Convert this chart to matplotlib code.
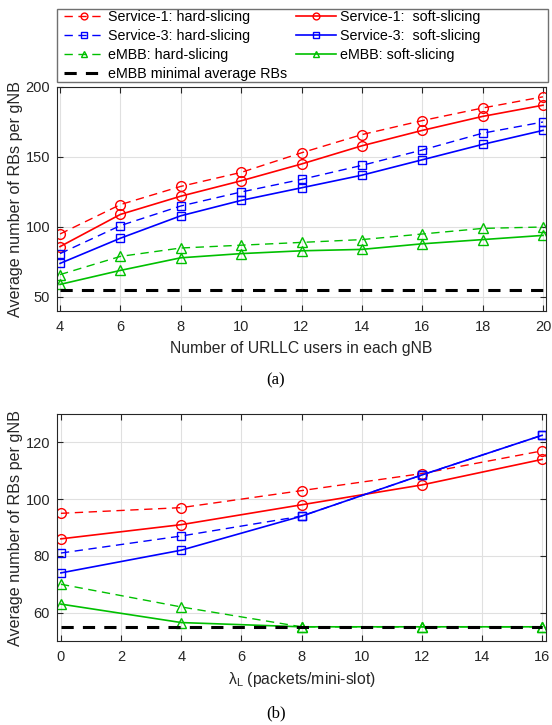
import numpy as np
import matplotlib.pyplot as plt
from matplotlib.patches import Rectangle

plt.rcParams['font.family'] = ['Liberation Sans', 'DejaVu Sans']
plt.rcParams['font.size'] = 10.5
plt.rcParams['axes.labelsize'] = 11.3
plt.rcParams['axes.labelcolor'] = '#262626'

# (a) number of URLLC users
users = [4, 6, 8, 10, 12, 14, 16, 18, 20]
s1_hard_a = [95, 116, 129, 139, 153, 166, 176, 185, 193]
s1_soft_a = [86, 109, 122, 133, 145, 158, 169, 179, 187]
s3_hard_a = [81, 101, 115, 125, 134, 144, 155, 167, 175]
s3_soft_a = [74, 92, 108, 119, 128, 137, 148, 159, 169]
embb_hard_a = [66, 79, 85, 87, 89, 91, 95, 99, 100]
embb_soft_a = [59, 69, 78, 81, 83, 84, 88, 91, 94]

# (b) arrival rate lambda_L
lam = [0, 4, 8, 12, 16]
s1_hard_b = [95, 97, 103, 109, 117]
s1_soft_b = [86, 91, 98, 105, 114]
s3_hard_b = [81, 87, 94, 108.5, 122.5]
s3_soft_b = [74, 82, 94, 108.5, 122.5]
embb_hard_b = [70, 62, 55, 55, 55]
embb_soft_b = [63, 56.5, 55, 55, 55]

embb_min = 55

red = '#ff0000'
blue = '#0000ff'
green = '#00c000'

fig = plt.figure(figsize=(5.52, 7.25), dpi=100)
ax1 = fig.add_axes([57/552, 1-311/725, 489/552, 224/725])
ax2 = fig.add_axes([57/552, 1-641/725, 489/552, 227/725])


def draw(ax, x, s1h, s1s, s3h, s3s, eh, es):
    hd = dict(lw=1.0, dashes=(6, 4), mfc='none', ms=7)
    sd = dict(lw=1.2, mfc='none', ms=7)
    h = {}
    h['s1h'], = ax.plot(x, s1h, color=red, marker='o', label='Service-1: hard-slicing', **hd)
    h['s1s'], = ax.plot(x, s1s, color=red, marker='o', label='Service-1:  soft-slicing', **sd)
    h['s3h'], = ax.plot(x, s3h, color=blue, marker='s', label='Service-3: hard-slicing', **dict(hd, ms=5.5))
    h['s3s'], = ax.plot(x, s3s, color=blue, marker='s', label='Service-3:  soft-slicing', **dict(sd, ms=5.5))
    h['eh'], = ax.plot(x, eh, color=green, marker='^', label='eMBB: hard-slicing', **hd)
    h['es'], = ax.plot(x, es, color=green, marker='^', label='eMBB: soft-slicing', **sd)
    h['min'], = ax.plot([x[0], x[-1]], [embb_min, embb_min], color='black', lw=2.2,
                        dashes=(4, 3), label='eMBB minimal average RBs')
    ax.grid(True, color='#e0e0e0', lw=0.8)
    ax.set_axisbelow(True)
    ax.tick_params(direction='in', top=True, right=True, length=4, colors='#262626')
    ax.tick_params(axis='x', pad=6.5)
    ax.tick_params(axis='y', pad=5)
    for s in ax.spines.values():
        s.set_color('#262626')
    ax.set_ylabel('Average number of RBs per gNB', fontsize=11.6)
    ax.yaxis.set_label_coords(-0.07, 0.5)
    return h


h = draw(ax1, users, s1_hard_a, s1_soft_a, s3_hard_a, s3_soft_a, embb_hard_a, embb_soft_a)
ax1.set_xlim(3.9, 20.1)
ax1.set_ylim(40, 200)
ax1.set_xticks(range(4, 21, 2))
ax1.set_yticks([50, 100, 150, 200])
ax1.set_xlabel('Number of URLLC users in each gNB', labelpad=5)

draw(ax2, lam, s1_hard_b, s1_soft_b, s3_hard_b, s3_soft_b, embb_hard_b, embb_soft_b)
ax2.set_xlim(-0.13, 16.13)
ax2.set_ylim(50, 130)
ax2.set_xticks(range(0, 17, 2))
ax2.set_yticks([60, 80, 100, 120])
ax2.set_xlabel(r'$\mathregular{\lambda_{L}}$ (packets/mini-slot)', labelpad=4)

# legend box spans the full width above panel (a)
fig.add_artist(Rectangle((57/552, 1-82/725), 491/552, 73/725, transform=fig.transFigure,
                         fill=False, edgecolor='#707070', lw=1.0))
order = ['s1h', 's3h', 'eh', 'min', 's1s', 's3s', 'es']
fig.legend([h[k] for k in order], [h[k].get_label() for k in order],
           loc='upper left', bbox_to_anchor=(64/552, 1-10/725),
           ncol=2, frameon=False, markerscale=0.7,
           handlelength=2.8, labelspacing=0.34, borderaxespad=0, borderpad=0,
           columnspacing=0.6, handletextpad=0.28, fontsize=10.3)

fig.text(0.5, 1-380/725, '(a)', ha='center', va='center',
         family='Liberation Serif', fontsize=12)
fig.text(0.5, 1-713/725, '(b)', ha='center', va='center',
         family='Liberation Serif', fontsize=12)

fig.savefig('out.png', dpi=100)
